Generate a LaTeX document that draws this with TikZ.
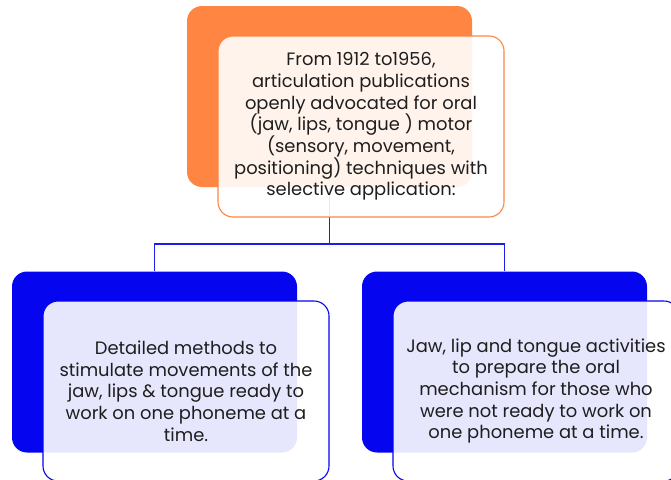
\documentclass[tikz,border=0pt]{standalone}
\usepackage{fontspec}
\setmainfont{Poppins}
\definecolor{accentorange}{RGB}{255,133,66}
\definecolor{accentblue}{RGB}{5,5,240}
\definecolor{linkblue}{RGB}{30,30,235}
\definecolor{bodytext}{RGB}{30,30,30}
\tikzset{
  backcard/.style={rounded corners=15pt, inner sep=0pt, minimum width=285pt, minimum height=181pt},
  frontcard/.style={rounded corners=15pt, inner sep=0pt, minimum width=286pt, minimum height=181pt,
    fill=white, fill opacity=0.9, text opacity=1, line width=1.1pt, text=bodytext,
    align=center, font=\fontsize{17.9pt}{21.7pt}\selectfont},
  link/.style={draw=linkblue, line width=1.1pt},
}
\begin{document}
\begin{tikzpicture}[x=1pt,y=-1pt]
  \useasboundingbox (0,0) rectangle (671,479);
  \clip (0,0) rectangle (671,479);
  % back cards
  \node[backcard, fill=accentorange] (topback) at (329.5,96.5) {};
  \node[backcard, fill=accentblue] (leftback) at (154.5,362) {};
  \node[backcard, fill=accentblue] (rightback) at (504.5,362) {};
  % connectors between the cards
  \coordinate (split) at (329.5,244);
  \draw[link] (topback.south) -- (split);
  \draw[link] (split) -| (leftback.north);
  \draw[link] (split) -| (rightback.north);
  % front cards with the text
  \node[frontcard, draw=accentorange, minimum height=181pt] (topfront) at (361,126.5)
    {From 1912 to1956,\\articulation publications\\openly advocated for oral\\(jaw, lips, tongue ) motor\\(sensory, movement,\\positioning) techniques with\\selective application:};
  \node[frontcard, draw=accentblue, minimum height=180pt] (leftfront) at (186,391)
    {Detailed methods to\\stimulate movements of the\\jaw, lips \& tongue ready to\\work on one phoneme at a\\time.};
  \node[frontcard, draw=accentblue, minimum height=180pt] (rightfront) at (536,391)
    {Jaw, lip and tongue activities\\to prepare the oral\\mechanism for those who\\were not ready to work on\\one phoneme at a time.};
\end{tikzpicture}
\end{document}
